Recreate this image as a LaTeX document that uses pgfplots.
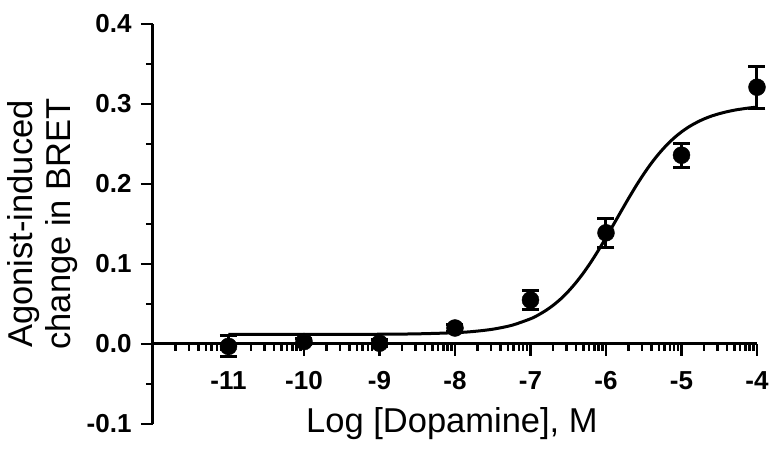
\documentclass[border=0pt]{standalone}
\usepackage{pgfplots}
\pgfplotsset{compat=1.18}
\usepackage{fontspec}
\setmainfont{Liberation Sans}
\begin{document}
\begin{tikzpicture}
\begin{axis}[
  scale only axis,
  width=604pt, height=400pt,
  xmin=-12, xmax=-4,
  ymin=-0.1, ymax=0.4,
  axis y line=left,
  axis x line=middle,
  axis line style={-, line width=3pt},
  xtick={-11,-10,-9,-8,-7,-6,-5,-4},
  ytick={-0.1,0,0.1,0.2,0.3,0.4},
  minor ytick={-0.05,0.05,0.15,0.25,0.35},
  minor xtick={-11.699,-11.523,-11.398,-11.301,-11.222,-11.155,-11.097,-11.046,
               -10.699,-10.523,-10.398,-10.301,-10.222,-10.155,-10.097,-10.046,
               -9.699,-9.523,-9.398,-9.301,-9.222,-9.155,-9.097,-9.046,
               -8.699,-8.523,-8.398,-8.301,-8.222,-8.155,-8.097,-8.046,
               -7.699,-7.523,-7.398,-7.301,-7.222,-7.155,-7.097,-7.046,
               -6.699,-6.523,-6.398,-6.301,-6.222,-6.155,-6.097,-6.046,
               -5.699,-5.523,-5.398,-5.301,-5.222,-5.155,-5.097,-5.046,
               -4.699,-4.523,-4.398,-4.301,-4.222,-4.155,-4.097,-4.046},
  xticklabels={-11,-10,-9,-8,-7,-6,-5,-4},
  tick align=outside,
  major tick length=12pt,
  minor tick length=7pt,
  every tick/.style={black, line width=2.5pt},
  /pgf/number format/assume math mode=true,
  yticklabel style={/pgf/number format/fixed, /pgf/number format/fixed zerofill, /pgf/number format/precision=1, xshift=-6pt},
  xticklabel style={yshift=-12pt},
  ticklabel style={font=\fontsize{26}{26}\selectfont\bfseries},
  xlabel={Log [Dopamine], M},
  ylabel={Agonist-induced\\change in BRET},
  label style={font=\fontsize{34.5}{38}\selectfont},
  ylabel style={at={(axis description cs:-0.182,0.5)}, anchor=center, align=center},
  xlabel style={at={(axis description cs:0.495,-0.02)}, anchor=base},
  clip=false,
]
\addplot[black, line width=3pt, smooth, no marks] coordinates {
(-11,0.0120) (-10,0.0120) (-9,0.0122) (-8.5,0.0127) (-8,0.0141) (-7.75,0.0157)
(-7.5,0.0185) (-7.25,0.0233) (-7,0.0315) (-6.9,0.0361) (-6.8,0.0417) (-6.7,0.0484)
(-6.6,0.0563) (-6.5,0.0657) (-6.4,0.0765) (-6.3,0.0887) (-6.2,0.1023) (-6.1,0.1172)
(-6.0,0.1330) (-5.9,0.1494) (-5.8,0.1659) (-5.7,0.1822) (-5.6,0.1979) (-5.5,0.2125)
(-5.4,0.2259) (-5.3,0.2378) (-5.2,0.2483) (-5.1,0.2574) (-5.0,0.2651) (-4.9,0.2716)
(-4.8,0.2769) (-4.7,0.2814) (-4.6,0.2850) (-4.5,0.2879) (-4.4,0.2903) (-4.3,0.2923)
(-4.2,0.2938) (-4.1,0.2951) (-4.0,0.2961)
};
\addplot[black, only marks, mark=*, mark size=8.5pt,
  error bars/.cd, y dir=both, y explicit,
  error bar style={line width=3pt},
  error mark options={rotate=90, mark size=8.5pt, line width=3pt}]
  coordinates {
(-11,-0.003) +- (0,0.013)
(-10,0.003) +- (0,0.004)
(-9,0.001) +- (0,0.004)
(-8,0.020) +- (0,0.004)
(-7,0.055) +- (0,0.012)
(-6,0.139) +- (0,0.018)
(-5,0.236) +- (0,0.015)
(-4,0.321) +- (0,0.026)
};
\end{axis}
\pgfresetboundingbox
\path (current axis.south west) ++(-153pt,-26pt) rectangle ++(772pt,450pt);
\end{tikzpicture}
\end{document}
